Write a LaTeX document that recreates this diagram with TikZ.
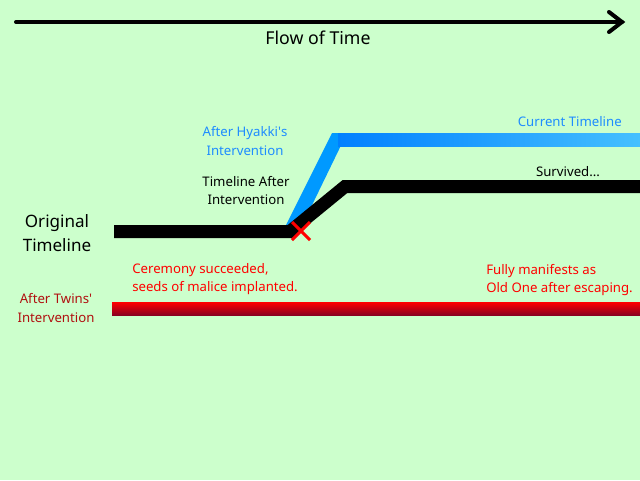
\documentclass[tikz,border=0pt]{standalone}
\usepackage{fontspec}
\setmainfont{Noto Sans}
\usetikzlibrary{shadings,calc}
\definecolor{bg}{HTML}{CCFFCC}
\definecolor{hblue}{HTML}{1E8CFF}
\definecolor{barblueL}{HTML}{0080FF}
\definecolor{barblueR}{HTML}{45C0FF}
\definecolor{diagblue}{HTML}{0099FF}
\definecolor{twinred}{HTML}{B01010}
\definecolor{redtop}{HTML}{FF0000}
\definecolor{redbot}{HTML}{8A0020}
\tikzset{
  lbl/.style={font=\fontsize{9.9pt}{11pt}\selectfont, inner sep=0pt, align=center},
  lbll/.style={lbl, align=left, anchor=west},
  bar/.style={line width=9.75pt, line join=miter},
}
\begin{document}
\begin{tikzpicture}[x=0.75pt,y=-0.75pt]
\fill[bg] (0,0) rectangle (640,480);
\useasboundingbox (0,0) rectangle (640,480);
% time arrow
\coordinate (ts) at (16,22);
\coordinate (te) at (622,22);
\draw[line width=3pt, line cap=round] (ts) -- (te);
\draw[line width=3pt, line cap=round, line join=miter] (609,12) -- (te) -- (609,32);
\node[lbl, font=\fontsize{13.3pt}{15pt}\selectfont] (flow) at (318,38) {Flow of Time};
% blue current timeline
\fill[diagblue] (284,229) -- (332,133) -- (347,133) -- (298,234) -- cycle;
\shade[left color=barblueL, right color=barblueR] (338,133) rectangle (640,146);
% black original
\coordinate (o1) at (114,231.5);
\coordinate (o2) at (290,231.5);
\coordinate (o3) at (345,186.5);
\coordinate (o4) at (640,186.5);
\draw[bar] (o1) -- (o2) -- (o3) -- (o4);
% red X
\coordinate (xc) at (301,231);
\draw[red, line width=2.3pt] ($(xc)+(-9,-9)$) -- ($(xc)+(9,9)$);
\draw[red, line width=2.3pt] ($(xc)+(-9,9)$) -- ($(xc)+(9,-9)$);
% red bar
\shade[top color=redtop, bottom color=redbot] (112,302) rectangle (640,315);
% labels
\node[lbl, text=hblue] (hy) at (245,141) {After Hyakki\textquotesingle s\\[3pt]Intervention};
\node[lbl] (ta) at (246,190.5) {Timeline After\\[3pt]Intervention};
\node[lbl, text=hblue, anchor=east] (cur) at (622,122) {Current Timeline};
\node[lbl] (surv) at (568,172) {Survived...};
\node[lbl, font=\fontsize{12.8pt}{15pt}\selectfont] (orig) at (57,233.5) {Original\\[3pt]Timeline};
\node[lbll, text=red] (cer) at (132,279) {Ceremony succeeded,\\[3pt]seeds of malice implanted.};
\node[lbl, text=twinred] (tw) at (56,308) {After Twins\textquotesingle\\[3pt]Intervention};
\node[lbll, text=red] (full) at (486,280) {Fully manifests as\\[3pt]Old One after escaping.};
\end{tikzpicture}
\end{document}
